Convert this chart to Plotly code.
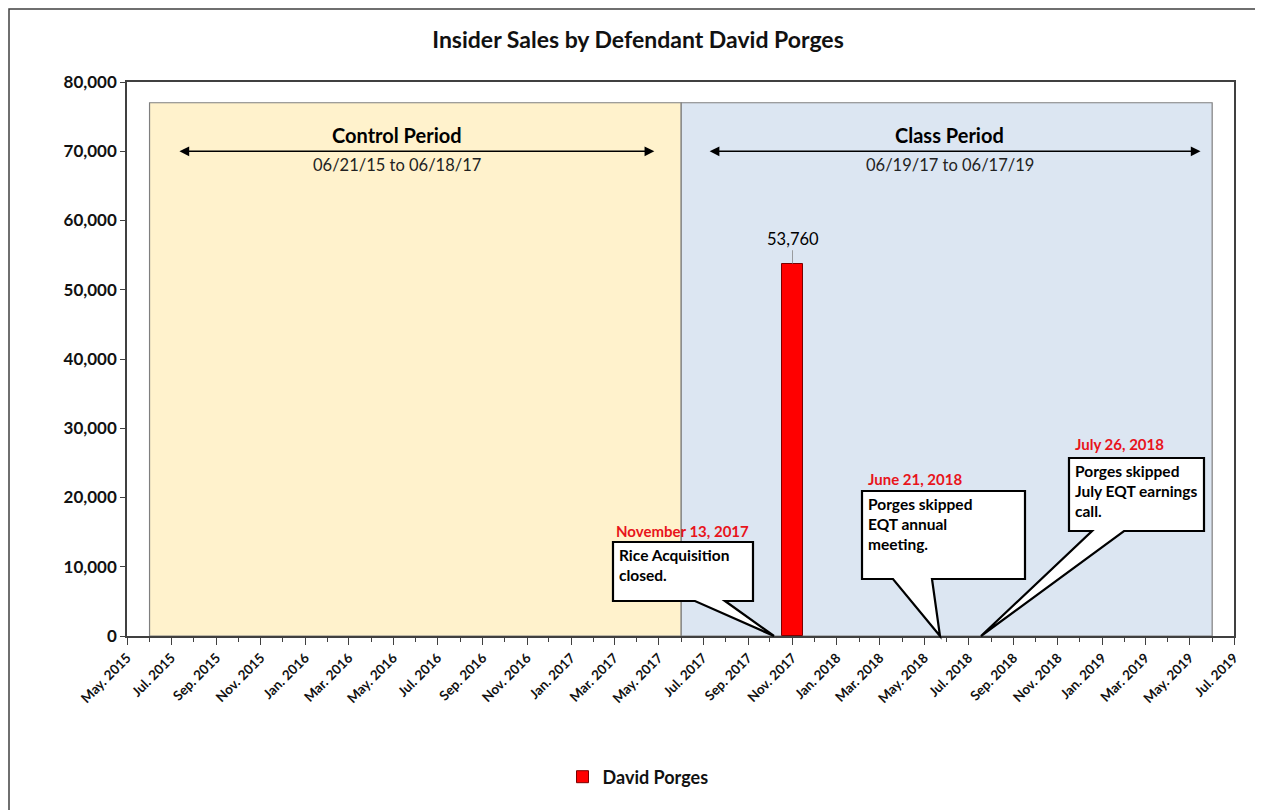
import plotly.graph_objects as go
import pandas as pd

# ---------------- data ----------------
months = ["2017-11-01"]
shares_sold = [53760]
series_name = "David Porges"

control_label = "Control Period"
control_dates = "06/21/15 to 06/18/17"
class_label = "Class Period"
class_dates = "06/19/17 to 06/17/19"

control_span = ["2015-06-01", "2017-06-01"]
class_span = ["2017-06-01", "2019-06-01"]
shade_top = 77000

event_dates = ["November 13, 2017", "June 21, 2018", "July 26, 2018"]
event_texts = ["Rice Acquisition<br>closed.",
               "Porges skipped<br>EQT annual<br>meeting.",
               "Porges skipped<br>July EQT earnings<br>call."]

x_range = ["2015-05-01", "2019-07-01"]
x_tick_dates = pd.date_range("2015-05-01", "2019-07-01", freq="2MS")
x_tick_labels = [d.strftime("%b. %Y") for d in x_tick_dates]
y_ticks = list(range(0, 80001, 10000))
y_tick_labels = [f"{v:,}" for v in y_ticks]

# ---------------- layout helpers (page pixel -> paper) ----------------
OFF = 8                      # body margin of the page
W, H = 1263 - OFF, 810 - OFF
L, R, T, B = 127, 1234, 82, 636   # plot area in page pixels


def px(x):
    return (x - L) / (R - L)


def py(y):
    return (B - y) / (B - T)


FONT = "Lato, 'Open Sans', sans-serif"

fig = go.Figure()
fig.add_trace(go.Bar(
    x=months, y=shares_sold, name=f"<b>{series_name}</b>",
    width=[29 * 86400000] * len(months),
    marker=dict(color="#FF0000", line=dict(color="#7a0000", width=1)),
    showlegend=True,
))

shapes = []
shapes.append(dict(type="rect", xref="x", yref="y", x0=control_span[0], x1=control_span[1],
                   y0=0, y1=shade_top, fillcolor="#FFF2CC", line=dict(color="#7f7f7f", width=1.2),
                   layer="below"))
shapes.append(dict(type="rect", xref="x", yref="y", x0=class_span[0], x1=class_span[1],
                   y0=0, y1=shade_top, fillcolor="#DCE6F2", line=dict(color="#7f7f7f", width=1.2),
                   layer="below"))
# outer border of the chart
shapes.append(dict(type="rect", xref="paper", yref="paper", x0=px(9), x1=px(1261),
                   y0=py(830), y1=py(9), line=dict(color="#404040", width=1.5),
                   fillcolor="rgba(0,0,0,0)", layer="below"))


def bubble(x0, y0, x1, y1, wa, wb, tx, ty):
    pts = [(x0, y0), (x1, y0), (x1, y1), (wb, y1), (tx, ty), (wa, y1), (x0, y1)]
    path = "M " + " L ".join(f"{px(a):.5f},{py(b):.5f}" for a, b in pts) + " Z"
    return dict(type="path", xref="paper", yref="paper", path=path,
                fillcolor="white", line=dict(color="black", width=2.2), layer="above")


boxes = [
    (613, 542, 753, 601, 695, 725, 774, 636),
    (862, 491, 1025, 579, 893, 932, 940, 636),
    (1069, 458, 1204, 531, 1092, 1124, 981, 636),
]
for bx in boxes:
    shapes.append(bubble(*bx))

annotations = []
# period arrows
for (xs, xe) in [("2015-07-10", "2017-04-25"), ("2017-07-08", "2019-05-16")]:
    annotations.append(dict(x=xe, y=70000, ax=xs, ay=70000, xref="x", yref="y",
                            axref="x", ayref="y", text="", showarrow=True,
                            arrowhead=2, arrowsize=1.3, arrowwidth=1.5,
                            arrowcolor="black", arrowside="end+start"))
# period labels
for mid, lab, dts in [("2016-05-06", control_label, control_dates),
                      ("2018-06-05", class_label, class_dates)]:
    annotations.append(dict(x=mid, y=72350, xref="x", yref="y", text=f"<b>{lab}</b>",
                            showarrow=False, font=dict(family=FONT, size=20, color="black")))
    annotations.append(dict(x=mid, y=68000, xref="x", yref="y", text=dts,
                            showarrow=False, font=dict(family=FONT, size=16.5, color="#222")))

# data label
for m, v in zip(months, shares_sold):
    annotations.append(dict(x=m, y=v, xref="x", yref="y", text=f"{v:,}",
                            showarrow=True, arrowhead=0, arrowwidth=0.8, arrowcolor="#888",
                            ax=0, ay=-25, font=dict(family=FONT, size=16.5, color="black")))

# callout texts
red_pos = [(614, 531), (866, 479), (1073, 444)]
for (bx, (rx, ry), d, t) in zip(boxes, red_pos, event_dates, event_texts):
    annotations.append(dict(x=px(rx), y=py(ry), xref="paper", yref="paper",
                            xanchor="left", yanchor="middle", showarrow=False,
                            text=f"<b>{d}</b>", font=dict(family=FONT, size=15, color="#E8141B")))
    annotations.append(dict(x=px(bx[0] + 4), y=py(bx[1] + 2), xref="paper", yref="paper",
                            xanchor="left", yanchor="top", align="left", showarrow=False,
                            text=f"<b>{t}</b>", font=dict(family=FONT, size=15.5, color="black")))

fig.update_layout(
    width=W, height=H,
    margin=dict(l=L - OFF, r=W - (R - OFF), t=T - OFF, b=H - (B - OFF)),
    paper_bgcolor="white", plot_bgcolor="white",
    title=dict(text="<b>Insider Sales by Defendant David Porges</b>",
               x=(638 - OFF) / W, xanchor="center",
               y=1 - (40 - OFF) / H, yanchor="middle",
               font=dict(family=FONT, size=23, color="#111")),
    font=dict(family=FONT, color="black"),
    shapes=shapes, annotations=annotations,
    showlegend=True,
    legend=dict(orientation="h", x=px(638), xanchor="center", y=py(777), yanchor="middle",
                font=dict(family=FONT, size=18, color="#111"), bgcolor="rgba(0,0,0,0)",
                itemwidth=30),
    bargap=0,
)

fig.update_xaxes(
    type="date", range=x_range,
    tickvals=list(x_tick_dates), ticktext=[f"<b>{t}</b>" for t in x_tick_labels],
    tickangle=-45, ticks="outside", ticklen=7, tickcolor="#404040",
    tickfont=dict(family=FONT, size=13.5, color="#111"),
    minor=dict(dtick="M1", tick0="2015-05-01", ticks="outside", ticklen=4, tickcolor="#404040"),
    showline=True, linecolor="#404040", linewidth=1.5, mirror=True, showgrid=False,
    zeroline=False,
)
fig.update_yaxes(
    range=[0, 80000], tickvals=y_ticks, ticktext=[f"<b>{t}</b>" for t in y_tick_labels],
    ticks="outside", ticklen=5,
    tickcolor="#404040", tickfont=dict(family=FONT, size=17, color="#111"),
    showline=True, linecolor="#404040", linewidth=1.5, mirror=True, showgrid=False,
    zeroline=False,
)

fig.write_html("out.html")
